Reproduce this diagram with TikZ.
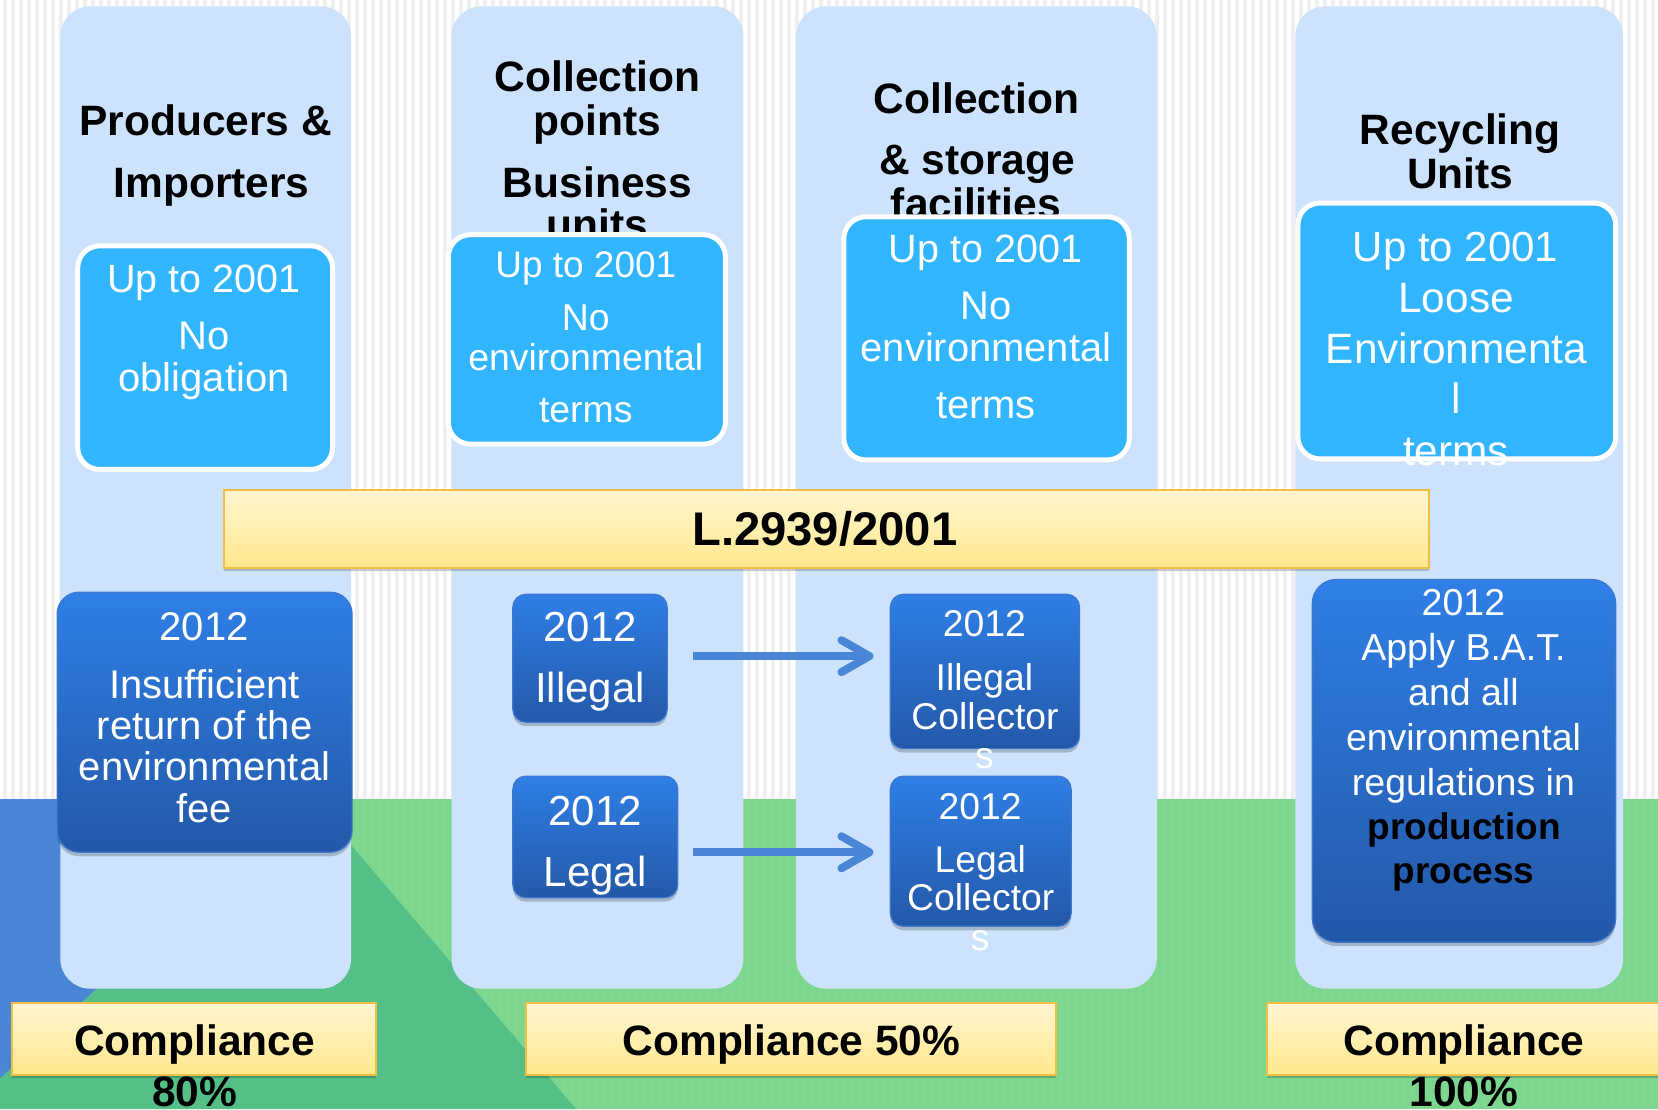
\documentclass[tikz,border=0pt]{standalone}
\usepackage{fontspec}
\setmainfont{Liberation Sans}
\usetikzlibrary{shadows,arrows.meta,calc}
\definecolor{stripeA}{HTML}{FFFFFF}
\definecolor{stripeB}{HTML}{EFEFEF}
\definecolor{greenA}{HTML}{7CD68D}
\definecolor{greenB}{HTML}{7FD890}
\definecolor{darkgreen}{HTML}{55BF88}
\definecolor{bgblue}{HTML}{4A86D6}
\definecolor{colfill}{HTML}{CDE3FD}
\definecolor{sky}{HTML}{31B5FF}
\definecolor{dtop}{HTML}{2F7FE6}
\definecolor{dbot}{HTML}{2358A8}
\definecolor{dline}{HTML}{3E78CC}
\definecolor{ytop}{HTML}{FFF6D2}
\definecolor{ybot}{HTML}{FFE88C}
\definecolor{yline}{HTML}{F2BE45}
\tikzset{
  column/.style={fill=colfill,rounded corners=30pt},
  skybox/.style={fill=sky,draw=white,line width=5pt,rounded corners=22pt},
  darkbox/.style={top color=dtop,bottom color=dbot,draw=dline,line width=1.2pt,rounded corners=#1,
     drop shadow={shadow xshift=0pt,shadow yshift=-4pt,fill=black,opacity=.2}},
  darkbox/.default=13pt,
  yellowbox/.style={top color=ytop,bottom color=ybot,draw=yline,line width=2pt,
     drop shadow={shadow xshift=0pt,shadow yshift=-3pt,fill=black,opacity=.2}},
  flow/.style={draw=bgblue,line width=8pt,-{Straight Barb[length=28pt,width=32pt,line width=8pt,round]}},
  title/.style={anchor=base,inner sep=0pt,font=\fontsize{42.5pt}{42.5pt}\bfseries,text=black},
  wtext/.style={anchor=base,inner sep=0pt,text=white,font=\fontsize{#1pt}{#1pt}\selectfont},
  btext/.style={anchor=base,inner sep=0pt,text=black,font=\fontsize{#1pt}{#1pt}\bfseries},
}
% empty box node from corner coordinates of the picture
\newcommand{\bx}[6]{%
  \pgfmathsetmacro{\bxw}{(#5-#3)*1.0574}%
  \pgfmathsetmacro{\bxh}{(#6-#4)*1.0574}%
  \node[#1,inner sep=0pt,outer sep=0pt,minimum width=\bxw pt,minimum height=\bxh pt] (#2) at ({(#3+#5)/2},{(#4+#6)/2}) {};}
\begin{document}
\begin{tikzpicture}[x=1.0574pt,y=-1.0574pt]
\useasboundingbox (0,0) rectangle (1568,1049);
% background
\fill[stripeA] (0,0) rectangle (1568,756);
\foreach \i in {0,...,207}{\fill[stripeB] ({\i*7.566+3.2},0) rectangle ({\i*7.566+7},756);}
\fill[greenA] (0,756) rectangle (1568,1049);
\foreach \i in {0,...,207}{\fill[greenB] ({\i*7.566+3.2},756) rectangle ({\i*7.566+7},1049);}
\fill[bgblue] (0,756) rectangle (200,1049);
\fill[darkgreen] (0,1020) -- (290,750) -- (545,1049) -- (0,1049) -- cycle;
% columns
\bx{column}{cola}{57}{6}{332}{935}
\bx{column}{colb}{427}{6}{703}{935}
\bx{column}{colc}{753}{6}{1094}{935}
\bx{column}{cold}{1225}{6}{1535}{935}
% column titles
\node[title] (t1a) at (194.5,128.2) {Producers \&};
\node[title] (t1b) at (200,187) {Importers};
\node[title] (t2a) at (565,86.5) {Collection};
\node[title] (t2b) at (565,128.5) {points};
\node[title] (t2c) at (565,187) {Business};
\node[title] (t2d) at (565,226.5) {units};
\node[title] (t3a) at (923.5,107) {Collection};
\node[title] (t3b) at (924,165) {\& storage};
\node[title] (t3c) at (923,207) {facilities};
\node[title] (t4a) at (1381,137) {Recycling};
\node[title] (t4b) at (1381,178) {Units};
% up-to-2001 boxes
\bx{skybox}{upa}{73.5}{232.5}{314.5}{444}
\bx{skybox}{upb}{424}{222}{686}{420}
\bx{skybox}{upc}{798}{205}{1068}{435}
\bx{skybox}{upd}{1227.5}{192}{1528}{434}
\node[wtext=39.5] (a1) at (193,277) {Up to 2001};
\node[wtext=40] (a2) at (193,330.5) {No};
\node[wtext=40] (a3) at (193,370) {obligation};
\node[wtext=37] (b1) at (554,262) {Up to 2001};
\node[wtext=37.4] (b2) at (554,313) {No};
\node[wtext=37.4] (b3) at (554,350) {environmental};
\node[wtext=37.4] (b4) at (554,400) {terms};
\node[wtext=39.5] (c1) at (932,248) {Up to 2001};
\node[wtext=39.9] (c2) at (932.5,302) {No};
\node[wtext=39.9] (c3) at (932.5,342) {environmental};
\node[wtext=39.9] (c4) at (932.5,396) {terms};
\node[wtext=42] (d1) at (1376.5,247) {Up to 2001};
\node[wtext=42.4] (d2) at (1377,295.5) {Loose};
\node[wtext=42.4] (d3) at (1377.5,343.5) {Environmenta};
\node[wtext=42.4] (d4) at (1377,391.5) {l};
\node[wtext=42.4] (d5) at (1377,440.5) {terms};
% law bar
\bx{yellowbox}{law}{212}{463}{1351}{537}
\node[btext=47.2] (lawt) at (780,516) {L.2939/2001};
% 2012 boxes
\bx{darkbox=22pt}{da}{54}{560}{333}{806}
\bx{darkbox}{dill}{485}{562}{631}{683}
\bx{darkbox}{dleg}{485}{734}{641}{849}
\bx{darkbox}{dillc}{842}{562}{1021}{708}
\bx{darkbox}{dlegc}{842}{734}{1013}{876}
\bx{darkbox=24pt}{dd}{1241}{548}{1528}{891}
\node[wtext=40] (e1) at (193,606) {2012};
\node[wtext=40] (e2) at (193.5,661) {Insufficient};
\node[wtext=40] (e3) at (193.5,699) {return of the};
\node[wtext=40] (e4) at (193.5,738) {environmental};
\node[wtext=40] (e5) at (193,778) {fee};
\node[wtext=42] (f1) at (558,607) {2012};
\node[wtext=42] (f2) at (558,664) {Illegal};
\node[wtext=42] (g1) at (563,781) {2012};
\node[wtext=42] (g2) at (563,838) {Legal};
\node[wtext=37.3] (h1) at (931,602) {2012};
\node[wtext=37.3] (h2) at (931,653) {Illegal};
\node[wtext=37.3] (h3) at (931.5,690) {Collector};
\node[wtext=37.3] (h4) at (931,727) {s};
\node[wtext=37.3] (i1) at (927,775) {2012};
\node[wtext=37.3] (i2) at (927,825) {Legal};
\node[wtext=37.3] (i3) at (927.5,861.5) {Collector};
\node[wtext=37.3] (i4) at (927,899) {s};
\node[wtext=37.5] (j1) at (1384,582) {2012};
\node[wtext=37.5] (j2) at (1384,624.5) {Apply B.A.T.};
\node[wtext=37.5] (j3) at (1384,667) {and all};
\node[wtext=37.4] (j4) at (1384,709.5) {environmental};
\node[wtext=37.5] (j5) at (1384,752) {regulations in};
\node[btext=37] (j6) at (1384.5,794) {production};
\node[btext=37] (j7) at (1384,836) {process};
% arrows
\draw[flow] ($(dill.east)+(24,-2)$) -- ($(dillc.west |- dill.east)+(-16,-2)$);
\draw[flow] ($(dleg.east |- dlegc.west)+(14,1)$) -- ($(dlegc.west)+(-16,1)$);
% compliance
\bx{yellowbox}{cpa}{11}{949}{356}{1017}
\bx{yellowbox}{cpb}{497}{949}{999}{1017}
\bx{yellowbox}{cpc}{1198}{949}{1575}{1017}
\node[title] (k1) at (184,998) {Compliance};
\node[title] (k2) at (184,1046) {80\%};
\node[title] (l1) at (748.5,998) {Compliance 50\%};
\node[title] (m1) at (1384.5,998) {Compliance};
\node[title] (m2) at (1384.5,1046) {100\%};
\end{tikzpicture}
\end{document}
